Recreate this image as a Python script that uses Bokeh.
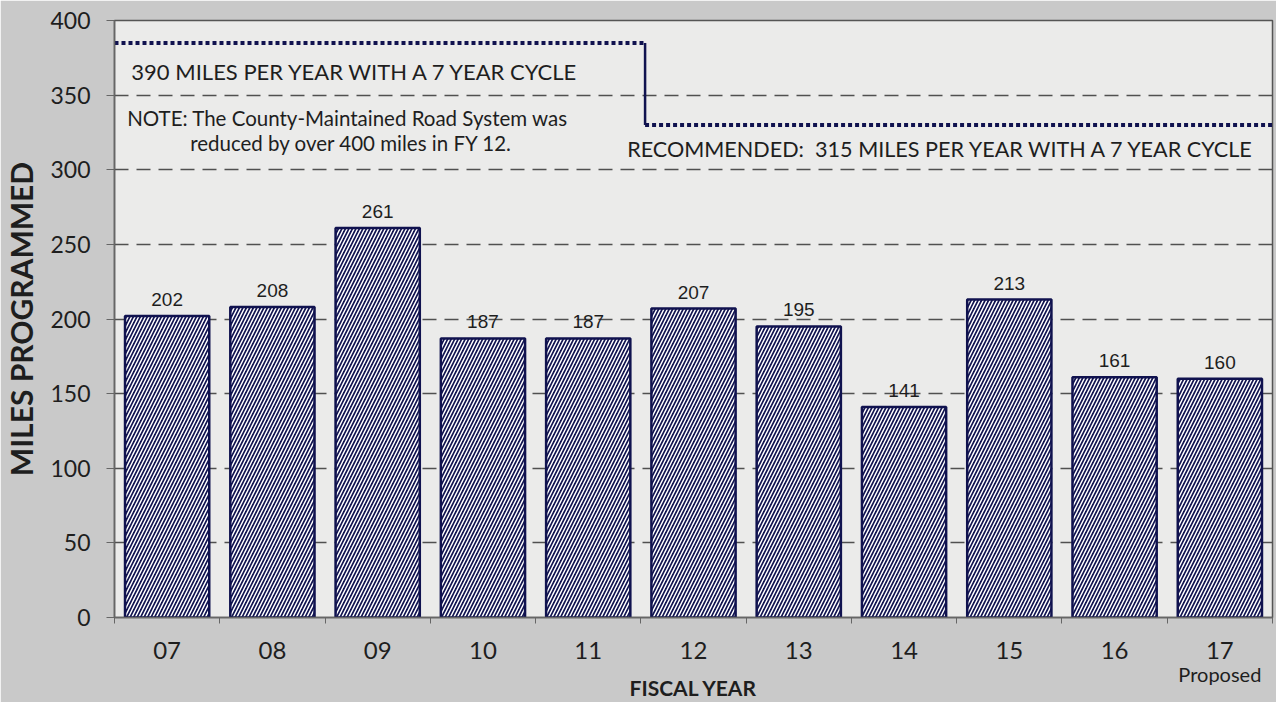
from bokeh.plotting import figure
from bokeh.models import FixedTicker, Range1d, ColumnDataSource, Label, LinearAxis
from bokeh.core.properties import value
from bokeh.embed import file_html
from bokeh.resources import INLINE

# ---- data ----
years = ["07", "08", "09", "10", "11", "12", "13", "14", "15", "16", "17"]
miles = [202, 208, 261, 187, 187, 207, 195, 141, 213, 161, 160]
cycle_levels = [385, 330]          # drawn levels of the 7-year-cycle lines
y_ticks = [0, 50, 100, 150, 200, 250, 300, 350, 400]
proposed_year = "17"

NAVY = "#10124f"
TXT = "#1e1e1e"
CAL = "Lato"

n = len(years)
xs = [i + 0.5 for i in range(n)]
src = ColumnDataSource(dict(x=xs, miles=miles, lab=[str(m) for m in miles]))

p = figure(width=1276, height=702, x_range=Range1d(0, n), y_range=Range1d(0, 400),
           output_backend="svg", toolbar_location=None,
           min_border_left=114, min_border_right=4, min_border_top=20, min_border_bottom=85)

p.background_fill_color = "#ebebea"
p.border_fill_color = "#c9c9c9"
p.outline_line_color = "#555555"
p.outline_line_width = 1.5

# grid
p.xgrid.visible = False
p.ygrid.ticker = FixedTicker(ticks=y_ticks)
p.ygrid.grid_line_color = "#505050"
p.ygrid.grid_line_dash = "14 8"
p.ygrid.grid_line_width = 1.5

# bars
p.vbar(x="x", top="miles", width=0.8, source=src,
       fill_color=NAVY, line_color=NAVY, line_width=2.5,
       hatch_pattern="/", hatch_color="white", hatch_scale=7, hatch_weight=1.5)

p.text(x="x", y="miles", text="lab", source=src, text_align="center",
       text_baseline="bottom", y_offset=-10, text_font=value("Liberation Sans"),
       text_font_size="19px", text_color=TXT)

# cycle lines
brk = years.index("12") + 0.04
p.line(x=[0, brk], y=[cycle_levels[0]] * 2, line_color=NAVY, line_width=4,
       line_dash="4 3")
p.line(x=[brk, n], y=[cycle_levels[1]] * 2, line_color=NAVY, line_width=4,
       line_dash="4 3")
p.segment(x0=[brk], y0=[cycle_levels[0]], x1=[brk], y1=[cycle_levels[1]],
          line_color=NAVY, line_width=2.5)

# x axis (fiscal years)
xa = p.xaxis[0]
xa.ticker = FixedTicker(ticks=xs, minor_ticks=list(range(n + 1)))
xa.major_label_overrides = {x: y for x, y in zip(xs, years)}
xa.major_tick_out = 0
xa.major_tick_in = 0
xa.minor_tick_out = 6
xa.minor_tick_in = 0
xa.minor_tick_line_color = "#666666"
xa.axis_line_color = "#666666"
xa.axis_line_width = 1.5
xa.major_label_standoff = 18
xa.major_label_text_font = CAL
xa.major_label_text_font_size = "24px"
xa.major_label_text_color = TXT

# second bottom axis: "Proposed" note + axis title
pi = years.index(proposed_year)
xa2 = LinearAxis(ticker=FixedTicker(ticks=[xs[pi]]),
                 major_label_overrides={xs[pi]: "Proposed"})
xa2.axis_line_color = None
xa2.major_tick_line_color = None
xa2.minor_tick_line_color = None
xa2.major_tick_out = 0
xa2.major_tick_in = 0
xa2.major_label_standoff = 0
xa2.major_label_text_font = CAL
xa2.major_label_text_font_size = "20px"
xa2.major_label_text_color = TXT
xa2.axis_label = "FISCAL YEAR"
xa2.axis_label_text_font = CAL
xa2.axis_label_text_font_style = "bold"
xa2.axis_label_text_font_size = "21px"
xa2.axis_label_text_color = TXT
xa2.axis_label_standoff = -14
p.add_layout(xa2, "below")

# y axis
ya = p.yaxis[0]
ya.ticker = FixedTicker(ticks=y_ticks)
ya.major_tick_out = 8
ya.major_tick_in = 0
ya.minor_tick_out = 0
ya.minor_tick_in = 0
ya.major_tick_line_color = "#666666"
ya.axis_line_color = "#666666"
ya.axis_line_width = 1.5
ya.major_label_standoff = 16
ya.major_label_text_font = CAL
ya.major_label_text_font_size = "23px"
ya.major_label_text_color = TXT
ya.axis_label = "MILES PROGRAMMED"
ya.axis_label_text_font = CAL
ya.axis_label_text_font_style = "bold"
ya.axis_label_text_font_size = "30px"
ya.axis_label_text_color = TXT
ya.axis_label_standoff = 8

# annotation texts
def lab(x, y, t, size, align="left"):
    p.add_layout(Label(x=x, y=y, text=t, text_font=CAL, text_font_size=size,
                       text_color=TXT, text_align=align, text_baseline="middle"))

lab(0.16, 366, "390 MILES PER YEAR WITH A 7 YEAR CYCLE", "22px")
lab(0.12, 335, "NOTE: The County-Maintained Road System was", "20.5px")
lab(2.25, 318, "reduced by over 400 miles in FY 12.", "20.5px", "center")
lab(4.87, 313.6, "RECOMMENDED:\u00a0 315 MILES PER YEAR WITH A 7 YEAR CYCLE", "21.6px")

open("out.html", "w").write(file_html(p, INLINE))
